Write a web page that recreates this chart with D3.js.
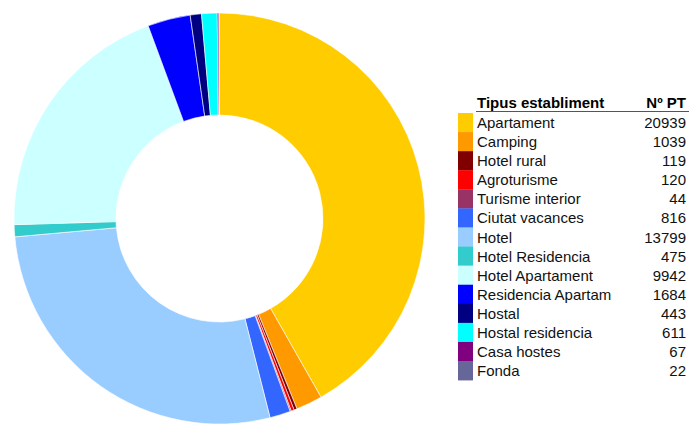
<!DOCTYPE html>
<html><head><meta charset="utf-8">
<script src="https://cdn.jsdelivr.net/npm/d3@7"></script>
<style>html,body{margin:0;padding:0;background:#fff;}svg{display:block;}</style>
</head><body>
<svg id="chart" width="690" height="424"></svg>
<script>
const categories = ["Apartament","Camping","Hotel rural","Agroturisme","Turisme interior","Ciutat vacances","Hotel","Hotel Residencia","Hotel Apartament","Residencia Apartam","Hostal","Hostal residencia","Casa hostes","Fonda"];
const values = [20939,1039,119,120,44,816,13799,475,9942,1684,443,611,67,22];
const colors = ["#FFCC00","#FF9900","#800000","#FF0000","#993366","#3366FF","#99CCFF","#33CCCC","#CCFFFF","#0000FF","#000080","#00FFFF","#800080","#666699"];
const headerLabels = ["Tipus establiment","Nº PT"];

const svg = d3.select("#chart");
const cx = 219.5, cy = 218.5, outerR = 205.5, innerR = 103.5;

const pie = d3.pie().sort(null).value(d => d)(values);
const arc = d3.arc().innerRadius(innerR).outerRadius(outerR);
svg.append("g").attr("transform", `translate(${cx},${cy})`)
  .selectAll("path").data(pie).join("path")
  .attr("d", arc)
  .attr("fill", (d,i) => colors[i])
  .attr("stroke", "#fff").attr("stroke-width", 0.6);

// Legend
const font = "'Liberation Sans', Arial, sans-serif";
const lx = 458, sw = 15, textX = 477, numX = 686, top0 = 113, rowH = 19.08;
const y = d3.scaleLinear().domain([0, categories.length]).range([top0, top0 + rowH*categories.length]);
const leg = svg.append("g").style("font-family", font).style("font-size", "15px");

leg.append("text").attr("x", textX).attr("y", 108).attr("font-weight", "bold").attr("fill", "#000").text(headerLabels[0]);
leg.append("text").attr("x", numX).attr("y", 108).attr("font-weight", "bold").attr("text-anchor", "end").attr("fill", "#000").text(headerLabels[1]);
leg.append("line").attr("x1", 476).attr("x2", 689).attr("y1", 111.5).attr("y2", 111.5).attr("stroke", "#555").attr("stroke-width", 1);

svg.append("defs").append("clipPath").attr("id","clipTxt")
  .append("rect").attr("x", 470).attr("y", 100).attr("width", 141).attr("height", 300);

const rows = leg.selectAll("g.row").data(categories).join("g").attr("class","row");
rows.append("rect").attr("x", lx).attr("y", (d,i) => y(i)).attr("width", sw).attr("height", rowH + 0.3)
  .attr("fill", (d,i) => colors[i]);
rows.append("text").attr("x", textX).attr("y", (d,i) => y(i) + rowH/2 + 5.5)
  .attr("clip-path", "url(#clipTxt)").attr("fill", "#111").text(d => d);
rows.append("text").attr("x", numX).attr("y", (d,i) => y(i) + rowH/2 + 5.5)
  .attr("text-anchor", "end").attr("fill", "#111").text((d,i) => values[i]);
</script>
</body></html>
